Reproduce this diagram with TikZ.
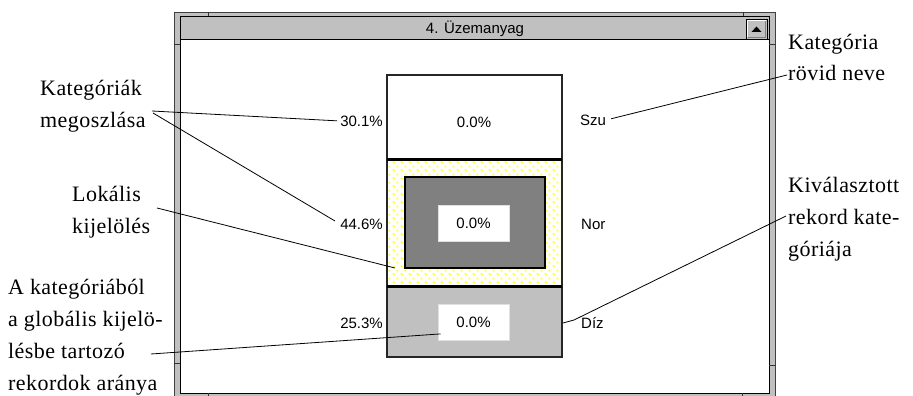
\documentclass[tikz,border=0pt]{standalone}
\usepackage{fontspec}
\setmainfont{Liberation Serif}
\newfontfamily\winfont{Liberation Sans}
\usetikzlibrary{patterns, positioning, calc}
\definecolor{winsilver}{RGB}{192,192,192}
\definecolor{windark}{RGB}{128,128,128}

% small staggered plus signs for the local selection
\pgfdeclarepatternformonly{selplus}{\pgfqpoint{0pt}{0pt}}{\pgfqpoint{8pt}{8pt}}{\pgfqpoint{8pt}{8pt}}{
  \pgfsetlinewidth{0.7pt}
  \pgfpathmoveto{\pgfqpoint{0.8pt}{2pt}}\pgfpathlineto{\pgfqpoint{3.2pt}{2pt}}
  \pgfpathmoveto{\pgfqpoint{2pt}{0.8pt}}\pgfpathlineto{\pgfqpoint{2pt}{3.2pt}}
  \pgfpathmoveto{\pgfqpoint{4.8pt}{6pt}}\pgfpathlineto{\pgfqpoint{7.2pt}{6pt}}
  \pgfpathmoveto{\pgfqpoint{6pt}{4.8pt}}\pgfpathlineto{\pgfqpoint{6pt}{7.2pt}}
  \pgfusepath{stroke}
}

\begin{document}
\begin{tikzpicture}[x=1pt,y=-1pt]
  % Styles
  \tikzset{
    callout/.style={font=\fontsize{22}{32}\selectfont\addfontfeature{LetterSpace=2},
      align=left, inner sep=0pt, anchor=base west},
    wintext/.style={font=\winfont\fontsize{15}{18}\selectfont, inner sep=0pt},
    leader/.style={draw=black, line width=0.8pt},
    barbox/.style={draw=black!85, line width=1.4pt},
    valbox/.style={wintext, fill=white, draw=black!12, line width=0.8pt,
      minimum width=71pt, minimum height=36pt},
    sepline/.style={line width=3pt, black},
    tick/.style={line width=1pt, black!80}
  }
  \useasboundingbox (0,0) rectangle (913,396);

  % Window frame with its grey border
  \fill[winsilver] (174,12) rectangle (776,402);
  \draw[black!75, line width=1pt] (174.5,12.5) rectangle (775.5,402);
  \filldraw[fill=white, draw=black, line width=1pt] (180,17) rectangle (769,393);
  % resize marks on the border
  \draw[tick] (208,12) -- (208,17);
  \draw[tick] (743,12) -- (743,17);
  \draw[tick] (174,45) -- (180,45);
  \draw[tick] (769,45) -- (775,45);
  \draw[tick] (174,363) -- (180,363);
  \draw[tick] (769,365) -- (775,365);
  \draw[tick] (208,393) -- (208,397);
  \draw[tick] (742,393) -- (742,397);

  % Title bar and its button
  \filldraw[fill=winsilver, draw=black, line width=1pt] (180,17) rectangle (769,40);
  \node[wintext] (title) at (475,29) {4. Üzemanyag};
  \filldraw[fill=winsilver, draw=black, line width=0.8pt] (746,19) rectangle (767,39);
  \draw[white, line width=0.8pt] (747.5,37.5) -- (747.5,20.5) -- (765.5,20.5);
  \draw[windark, line width=0.8pt] (748,37.5) -- (765.5,37.5) -- (765.5,21);
  \fill[black] (751.5,32) -- (761.5,32) -- (756.5,26.5) -- cycle;

  % Category bars
  \filldraw[fill=white, barbox] (387,75) rectangle (562,159);
  \fill[white] (387,159) rectangle (562,286);
  \fill[pattern=selplus, pattern color=yellow] (387,159) rectangle (562,286);
  \draw[barbox] (387,159) rectangle (562,286);
  \filldraw[fill=windark, draw=black, line width=1.2pt] (405,177) rectangle (545,268);
  \filldraw[fill=winsilver, barbox] (387,286) rectangle (562,357);
  \draw[sepline] (387,159) -- (562,159);
  \draw[sepline] (387,286) -- (562,286);

  % Values inside the bars
  \node[wintext] (szuval) at (474,122) {0.0\%};
  \node[valbox] (norval) at (473.5,223) {0.0\%};
  \node[valbox] (dizval) at (473.5,322.5) {0.0\%};

  % Shares on the left, short names on the right
  \node[wintext, anchor=east] (szupct) at (383,121) {30.1\%};
  \node[wintext, anchor=east] (norpct) at (383,224) {44.6\%};
  \node[wintext, anchor=east] (dizpct) at (383,323) {25.3\%};
  \node[wintext, anchor=west] (szuname) at (580,120) {Szu};
  \node[wintext, anchor=west] (norname) at (581,224) {Nor};
  \node[wintext, anchor=west] (dizname) at (581,323) {Díz};

  % Explanations (anchored at the baseline of their last line)
  \node[callout] (megoszlas) at (40,127) {Kategóriák\\megoszlása};
  \node[callout] (lokalis) at (72,233) {Lokális\\kijelölés};
  \node[callout] (arany) at (8,390) {A kategóriából\\a globális kijelö-\\lésbe tartozó\\rekordok aránya};
  \node[callout] (rovidnev) at (788,81) {Kategória\\rövid neve};
  \node[callout] (kivalasztott) at (788,256) {Kiválasztott\\rekord kate-\\góriája};

  % Leader line ends
  \coordinate (megoszlas-a) at (152,111);
  \coordinate (megoszlas-b) at (153,113);
  \coordinate (lokalis-tip) at (157,208);
  \coordinate (localsel) at (395,268);
  \coordinate (arany-tip) at (151,354);
  \coordinate (rovidnev-tip) at (787,75);
  \coordinate (kivalasztott-tip) at (786,216);
  \coordinate (dizknee) at (574,320);
  \coordinate (dizmark) at (563,323);

  % Leader lines
  \draw[leader, shorten >=3pt] (megoszlas-a) -- (szupct.west);
  \draw[leader, shorten >=6pt] (megoszlas-b) -- (norpct.west);
  \draw[leader] (lokalis-tip) -- (localsel);
  \draw[leader] (arany-tip) -- ($(dizval.south west)+(3,-7)$);
  \draw[leader, shorten <=5pt] (szuname.east) -- (rovidnev-tip);
  \draw[leader] (kivalasztott-tip) -- (dizknee) -- (dizmark);

\end{tikzpicture}
\end{document}
